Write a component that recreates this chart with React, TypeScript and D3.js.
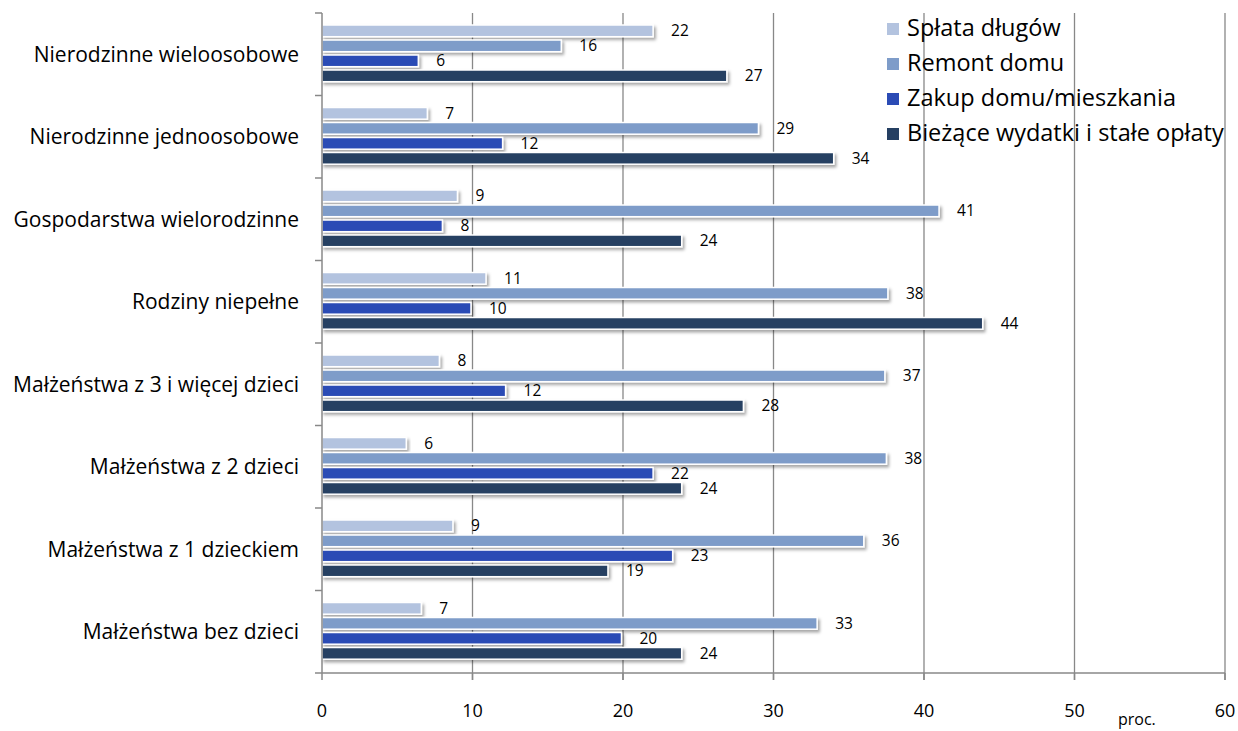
import React from "react";
import * as d3 from "d3";

const categories = [
  "Nierodzinne wieloosobowe",
  "Nierodzinne jednoosobowe",
  "Gospodarstwa wielorodzinne",
  "Rodziny niepełne",
  "Małżeństwa z 3 i więcej dzieci",
  "Małżeństwa z 2 dzieci",
  "Małżeństwa z 1 dzieckiem",
  "Małżeństwa bez dzieci",
];

const seriesNames = [
  "Spłata długów",
  "Remont domu",
  "Zakup domu/mieszkania",
  "Bieżące wydatki i stałe opłaty",
];

const splata = [22.0, 7.0, 9.0, 10.9, 7.8, 5.6, 8.7, 6.6];
const remont = [15.9, 29.0, 41.0, 37.6, 37.4, 37.5, 36.0, 32.9];
const zakup = [6.4, 12.0, 8.0, 9.9, 12.2, 22.0, 23.3, 19.9];
const biezace = [26.9, 34.0, 23.9, 43.9, 28.0, 23.9, 19.0, 23.9];

const seriesValues = [splata, remont, zakup, biezace];
const colors = ["#b3c3df", "#7e9cc9", "#2b4bb5", "#253f62"];
const xTicks = [0, 10, 20, 30, 40, 50, 60];

const FONT = "'Open Sans', sans-serif";

export default function App() {
  const width = 1238;
  const height = 731;
  const left = 322;
  const right = 1225;
  const top = 13;
  const bottom = 673;

  const x = d3.scaleLinear().domain([0, 60]).range([left, right]);
  const y = d3.scaleBand<string>().domain(categories).range([top, bottom]).paddingInner(0).paddingOuter(0);
  const inner = d3
    .scaleBand<string>()
    .domain(seriesNames)
    .range([12, 68.7])
    .paddingInner(0.22)
    .paddingOuter(0);

  return (
    <svg width={width} height={height} style={{ position: "absolute", left: 0, top: 0, background: "#fff" }}>
      <defs>
        <filter id="sh" x="-5%" y="-50%" width="110%" height="250%">
          <feDropShadow dx="2" dy="2.5" stdDeviation="1.6" floodColor="#000" floodOpacity="0.35" />
        </filter>
      </defs>
      <rect x={0} y={0} width={width} height={height} fill="#fff" />
      {/* gridlines */}
      {xTicks.slice(1).map((t) => (
        <line key={"g" + t} x1={x(t)} x2={x(t)} y1={top} y2={bottom + 7} stroke="#888" strokeWidth={1.3} />
      ))}
      {/* bars */}
      {categories.map((c, ci) => (
        <g key={c}>
          {seriesNames.map((s, si) => {
            const v = seriesValues[si][ci];
            const by = (y(c) as number) + (inner(s) as number);
            const bh = inner.bandwidth();
            return (
              <g key={s}>
                <rect
                  x={x(0)}
                  y={by}
                  width={x(v) - x(0)}
                  height={bh}
                  fill={colors[si]}
                  stroke="#fff"
                  strokeWidth={1.5}
                  filter="url(#sh)"
                />
                <text
                  x={x(v) + 18}
                  y={by + bh / 2}
                  dy="0.36em"
                  fontFamily={FONT}
                  fontSize={15.5}
                  fill="#000"
                >
                  {d3.format(".0f")(v)}
                </text>
              </g>
            );
          })}
        </g>
      ))}
      {/* y axis */}
      <line x1={left} x2={left} y1={top} y2={bottom} stroke="#888" strokeWidth={1.5} />
      {d3.range(categories.length + 1).map((i) => {
        const yy = top + i * y.step();
        return <line key={"yt" + i} x1={left - 7} x2={left} y1={yy} y2={yy} stroke="#888" strokeWidth={1.5} />;
      })}
      {categories.map((c) => (
        <text
          key={"cl" + c}
          x={299}
          y={(y(c) as number) + y.bandwidth() / 2}
          dy="0.36em"
          textAnchor="end"
          fontFamily={FONT}
          fontSize={21}
          fill="#000"
        >
          {c}
        </text>
      ))}
      {/* x axis */}
      <line x1={left} x2={right} y1={bottom} y2={bottom} stroke="#888" strokeWidth={1.5} />
      {xTicks.map((t) => (
        <g key={"xt" + t}>
          <line x1={x(t)} x2={x(t)} y1={bottom} y2={bottom + 7} stroke="#888" strokeWidth={1.5} />
          <text x={x(t)} y={717} textAnchor="middle" fontFamily={FONT} fontSize={18} fill="#000">
            {t}
          </text>
        </g>
      ))}
      <text x={1118} y={725} fontFamily={FONT} fontSize={16} fill="#000">
        proc.
      </text>
      {/* legend */}
      {seriesNames.map((s, i) => (
        <g key={"lg" + s}>
          <rect x={887} y={23 + i * 35} width={12} height={12} fill={colors[i]} />
          <text x={907} y={35.7 + i * 35} fontFamily={FONT} fontSize={23.5} fill="#000">
            {s}
          </text>
        </g>
      ))}
    </svg>
  );
}
